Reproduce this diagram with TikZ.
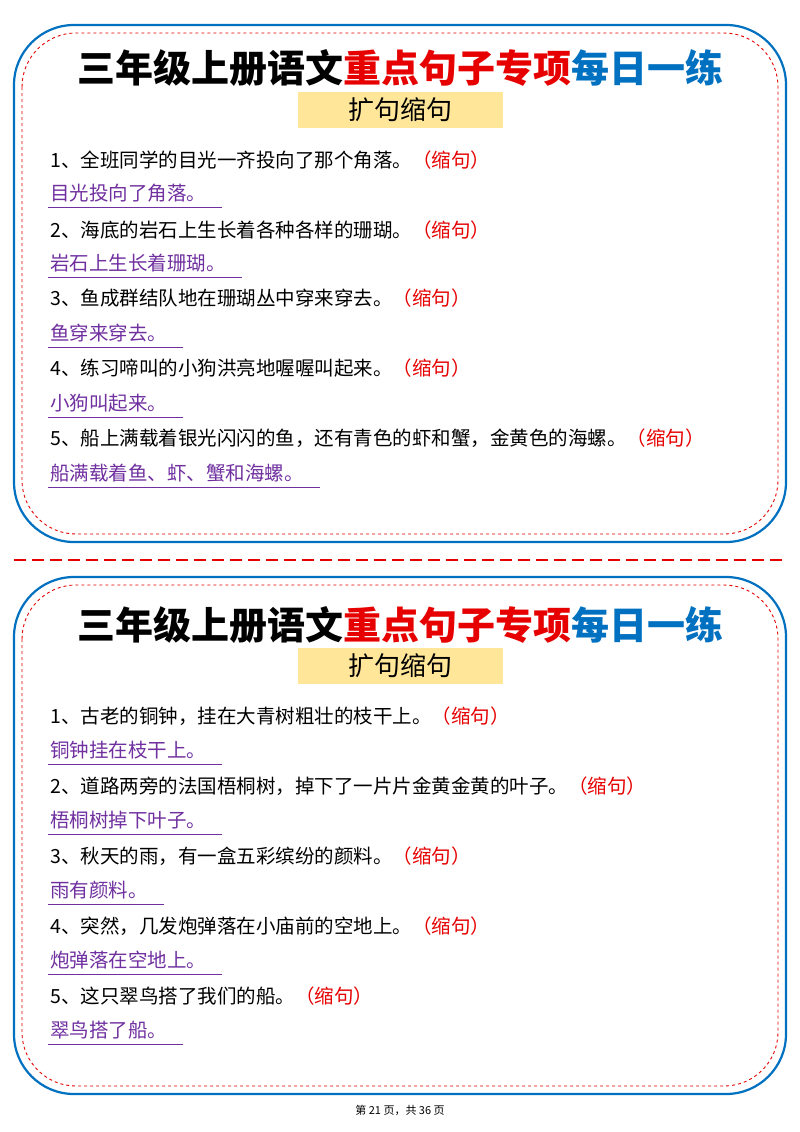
\documentclass[tikz,border=0pt]{standalone}
\usepackage{fontspec}
\setmainfont{Noto Sans CJK SC}
\XeTeXlinebreaklocale "zh"
\definecolor{tblue}{RGB}{0,112,192}
\definecolor{tred}{RGB}{230,0,0}
\definecolor{tpurple}{RGB}{112,48,160}
\definecolor{hl}{RGB}{255,230,153}
\begin{document}
\begin{tikzpicture}[x=1pt,y=-1pt,
  outer/.style={draw=tblue,line width=2.2pt,rounded corners=60pt},
  inner/.style={draw=tred,dashed,line width=0.9pt,rounded corners=54pt},
  ttl/.style={font=\fontsize{38}{42}\selectfont\bfseries,inner sep=0},
  hlb/.style={fill=hl,minimum width=205pt,minimum height=36pt,inner sep=0,font=\fontsize{26}{28}\selectfont},
  item/.style={anchor=west,inner sep=0,font=\fontsize{19.5}{22}\selectfont},
  ans/.style={anchor=west,inner sep=0,text=tpurple,font=\fontsize{19.5}{22}\selectfont},
  uline/.style={draw=tpurple,line width=0.8pt}]
\useasboundingbox (0,0) rectangle (800,1132);
\fill[white] (0,0) rectangle (800,1132);
\newcommand{\sj}{\textcolor{tred}{（缩句）}}
% panels
\foreach \t in {0,552}{
  \draw[outer] (14,25+\t) rectangle (786,542+\t);
  \draw[inner] (22,33+\t) rectangle (778,534+\t);
}
\draw[tred,dashed,line width=1.6pt,dash pattern=on 12pt off 6pt] (14,560) -- (786,560);
% top
\node[ttl] (t1) at (400,68) {三年级上册语文\textcolor{tred}{重点句子专项}\textcolor{tblue}{每日一练}};
\node[hlb] (h1) at (400,110) {扩句缩句};
\node[item] (a1) at (50,160) {1、全班同学的目光一齐投向了那个角落。\sj};
\node[ans] (b1) at (50,193) {目光投向了角落。};
\node[item] (a2) at (50,230) {2、海底的岩石上生长着各种各样的珊瑚。\sj};
\node[ans] (b2) at (50,263) {岩石上生长着珊瑚。};
\node[item] (a3) at (50,298) {3、鱼成群结队地在珊瑚丛中穿来穿去。\sj};
\node[ans] (b3) at (50,333) {鱼穿来穿去。};
\node[item] (a4) at (50,368) {4、练习啼叫的小狗洪亮地喔喔叫起来。\sj};
\node[ans] (b4) at (50,403) {小狗叫起来。};
\node[item] (a5) at (50,438) {5、船上满载着银光闪闪的鱼，还有青色的虾和蟹，金黄色的海螺。\sj};
\node[ans] (b5) at (50,473) {船满载着鱼、虾、蟹和海螺。};
% bottom
\node[ttl] (t2) at (400,625) {三年级上册语文\textcolor{tred}{重点句子专项}\textcolor{tblue}{每日一练}};
\node[hlb] (h2) at (400,666) {扩句缩句};
\node[item] (c1) at (50,716) {1、古老的铜钟，挂在大青树粗壮的枝干上。\sj};
\node[ans] (d1) at (50,750) {铜钟挂在枝干上。};
\node[item] (c2) at (50,786) {2、道路两旁的法国梧桐树，掉下了一片片金黄金黄的叶子。\sj};
\node[ans] (d2) at (50,820) {梧桐树掉下叶子。};
\node[item] (c3) at (50,856) {3、秋天的雨，有一盒五彩缤纷的颜料。\sj};
\node[ans] (d3) at (50,890) {雨有颜料。};
\node[item] (c4) at (50,926) {4、突然，几发炮弹落在小庙前的空地上。\sj};
\node[ans] (d4) at (50,960) {炮弹落在空地上。};
\node[item] (c5) at (50,996) {5、这只翠鸟搭了我们的船。\sj};
\node[ans] (d5) at (50,1030) {翠鸟搭了船。};
\foreach \n in {b1,b2,b3,b4,b5,d1,d2,d3,d4,d5}{
  \draw[uline] ([xshift=-2pt,yshift=-5pt]\n.south west) -- ([xshift=16pt,yshift=-5pt]\n.south east);
}
\node[inner sep=0,font=\fontsize{11}{12}\selectfont] (ft) at (400,1110) {第 21 页，共 36 页};
\end{tikzpicture}
\end{document}
